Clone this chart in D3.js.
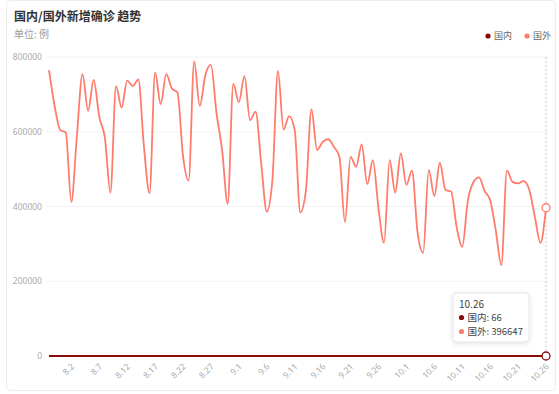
<!DOCTYPE html>
<html>
<head>
<meta charset="utf-8">
<script src="https://cdn.jsdelivr.net/npm/d3@7"></script>
<style>
  body { margin: 0; background: #fff; font-family: "Noto Sans CJK SC", "Noto Sans", sans-serif; }
</style>
</head>
<body>
<div id="chart"></div>
<script>
// categories: one per day, 7.29 to 10.26
var dates = [
    "7.29", "7.30", "7.31",
    "8.1", "8.2", "8.3", "8.4", "8.5", "8.6", "8.7", "8.8", "8.9", "8.10",
    "8.11", "8.12", "8.13", "8.14", "8.15", "8.16", "8.17", "8.18", "8.19", "8.20",
    "8.21", "8.22", "8.23", "8.24", "8.25", "8.26", "8.27", "8.28", "8.29", "8.30", "8.31",
    "9.1", "9.2", "9.3", "9.4", "9.5", "9.6", "9.7", "9.8", "9.9", "9.10",
    "9.11", "9.12", "9.13", "9.14", "9.15", "9.16", "9.17", "9.18", "9.19", "9.20",
    "9.21", "9.22", "9.23", "9.24", "9.25", "9.26", "9.27", "9.28", "9.29", "9.30",
    "10.1", "10.2", "10.3", "10.4", "10.5", "10.6", "10.7", "10.8", "10.9", "10.10",
    "10.11", "10.12", "10.13", "10.14", "10.15", "10.16", "10.17", "10.18", "10.19", "10.20",
    "10.21", "10.22", "10.23", "10.24", "10.25", "10.26"
];

// 国内 new cases (tiny next to 国外, sits on the zero line)
var domestic = [
    85, 80, 92, 98, 96, 71, 81, 124, 89, 85,
    108, 94, 62, 61, 53, 42, 51, 23, 20, 42,
    39, 29, 28, 21, 35, 28, 20, 21, 21, 20,
    29, 24, 30, 28, 23, 26, 29, 32, 28, 33,
    43, 29, 20, 21, 23, 30, 76, 37, 38, 32,
    43, 36, 28, 40, 38, 32, 29, 37, 25, 33,
    45, 25, 24, 32, 31, 30, 25, 31, 43, 34,
    36, 28, 30, 27, 28, 23, 27, 41, 38, 28,
    29, 42, 51, 35, 39, 30, 33, 43, 35, 66
];

// 国外 new cases
var overseas = [
    765000, 670000, 605000, 598000, 412000, 590000, 754000, 656000, 739000, 640000,
    585000, 437000, 722000, 665000, 737000, 722000, 740000, 560000, 436000, 758000,
    674000, 754000, 716000, 705000, 535000, 469000, 788000, 669000, 752000, 779000,
    650000, 551000, 407000, 728000, 679000, 749000, 631000, 654000, 515000, 386000,
    470000, 763000, 606000, 642000, 605000, 384000, 442000, 660000, 551000, 573000,
    580000, 560000, 533000, 358000, 533000, 506000, 566000, 460000, 524000, 395000,
    303000, 524000, 437000, 542000, 458000, 496000, 330000, 276000, 498000, 428000,
    517000, 444000, 440000, 345000, 292000, 415000, 465000, 478000, 442000, 417000,
    337000, 243000, 496000, 466000, 462000, 468000, 445000, 373000, 303000, 396647
];

var xTicks = ["8.2", "8.7", "8.12", "8.17", "8.22", "8.27", "9.1", "9.6", "9.11",
    "9.16", "9.21", "9.26", "10.1", "10.6", "10.11", "10.16", "10.21", "10.26"];
var yTicks = [0, 200000, 400000, 600000, 800000];

var W = 559, H = 394,
    plot = { left: 49, right: 546, top: 57, bottom: 356 },
    domesticColor = "#8b0a0a",
    overseasColor = "#ff7b6b",
    hoverIndex = dates.length - 1; // tooltip shows the last day

var svg = d3.select("#chart").append("svg")
    .attr("width", W)
    .attr("height", H);

var defs = svg.append("defs");
var shadow = defs.append("filter").attr("id", "shadow")
    .attr("x", "-20%").attr("y", "-20%").attr("width", "140%").attr("height", "160%");
shadow.append("feDropShadow")
    .attr("dx", 0).attr("dy", 1).attr("stdDeviation", 2.5)
    .attr("flood-color", "#000").attr("flood-opacity", 0.12);

// card
svg.append("rect")
    .attr("x", 6.5).attr("y", 0.5)
    .attr("width", 549).attr("height", 390)
    .attr("rx", 4)
    .attr("fill", "#fff")
    .attr("stroke", "#ededed");

svg.append("text")
    .attr("x", 14).attr("y", 21)
    .attr("font-size", 12).attr("font-weight", "bold")
    .attr("fill", "#333")
    .text("国内/国外新增确诊 趋势");

svg.append("text")
    .attr("x", 14).attr("y", 38)
    .attr("font-size", 10)
    .attr("fill", "#999")
    .text("单位: 例");

// legend
var legendKey = [
    { name: "国内", color: domesticColor, x: 488 },
    { name: "国外", color: overseasColor, x: 527 }
];
var legend = svg.selectAll(".legend")
    .data(legendKey)
    .enter().append("g")
    .attr("class", "legend")
    .attr("transform", function (d) { return "translate(" + d.x + ",36)"; });
legend.append("circle").attr("r", 2.6).attr("fill", function (d) { return d.color; });
legend.append("text")
    .attr("x", 6).attr("dy", "0.35em")
    .attr("font-size", 9).attr("fill", "#666")
    .text(function (d) { return d.name; });

var xScale = d3.scalePoint()
    .domain(dates)
    .range([plot.left, plot.right]);

var yScale = d3.scaleLinear()
    .domain([0, 800000])
    .range([plot.bottom, plot.top]);

// grid lines
svg.append("g")
    .selectAll("line")
    .data(yTicks.filter(function (d) { return d > 0; }))
    .enter().append("line")
    .attr("x1", 46).attr("x2", 549)
    .attr("y1", function (d) { return yScale(d); })
    .attr("y2", function (d) { return yScale(d); })
    .attr("stroke", "#f2f2f2");

// y axis labels
var yAxis = svg.append("g")
    .attr("transform", "translate(42,0)")
    .call(d3.axisLeft(yScale).tickValues(yTicks).tickSize(0).tickPadding(0)
        .tickFormat(d3.format("d")));
yAxis.select(".domain").remove();
yAxis.selectAll("text")
    .attr("font-family", "'Noto Sans', sans-serif")
    .attr("font-size", 8.5)
    .attr("fill", "#aaa");

// x axis labels, rotated
var xAxis = svg.append("g")
    .attr("transform", "translate(0," + plot.bottom + ")")
    .call(d3.axisBottom(xScale).tickValues(xTicks).tickSize(0));
xAxis.select(".domain").remove();
xAxis.selectAll("text")
    .attr("font-family", "'Noto Sans', sans-serif")
    .attr("font-size", 8.5)
    .attr("fill", "#aaa")
    .attr("text-anchor", "end")
    .attr("y", 0).attr("dy", 0)
    .attr("transform", "translate(3,11) rotate(-45)");

// crosshair
svg.append("line")
    .attr("x1", xScale(dates[hoverIndex])).attr("x2", xScale(dates[hoverIndex]))
    .attr("y1", plot.top).attr("y2", plot.bottom)
    .attr("stroke", "#c8c8c8")
    .attr("stroke-dasharray", "2,2");

var lineOf = function (values) {
    return d3.line()
        .x(function (d, i) { return xScale(dates[i]); })
        .y(function (d) { return yScale(d); })
        .curve(d3.curveMonotoneX)(values);
};

svg.append("path")
    .attr("d", lineOf(overseas))
    .attr("fill", "none")
    .attr("stroke", overseasColor)
    .attr("stroke-width", 1.8);

svg.append("path")
    .attr("d", lineOf(domestic))
    .attr("fill", "none")
    .attr("stroke", domesticColor)
    .attr("stroke-width", 2);

// hover markers
[{ v: overseas[hoverIndex], c: overseasColor }, { v: domestic[hoverIndex], c: domesticColor }]
    .forEach(function (m) {
        svg.append("circle")
            .attr("cx", xScale(dates[hoverIndex]))
            .attr("cy", yScale(m.v))
            .attr("r", 4)
            .attr("fill", "#fff")
            .attr("stroke", m.c)
            .attr("stroke-width", 1.3);
    });

// tooltip
var tip = svg.append("g").attr("transform", "translate(453,293)");
tip.append("rect")
    .attr("width", 76).attr("height", 49)
    .attr("rx", 4)
    .attr("fill", "#fff")
    .attr("stroke", "#e6e6e6")
    .attr("filter", "url(#shadow)");
tip.append("text")
    .attr("x", 6).attr("y", 14.5)
    .attr("font-size", 10).attr("fill", "#444")
    .text(dates[hoverIndex]);
var rows = [
    { name: "国内", value: domestic[hoverIndex], color: domesticColor },
    { name: "国外", value: overseas[hoverIndex], color: overseasColor }
];
rows.forEach(function (r, i) {
    var y = 24.5 + i * 14;
    tip.append("circle").attr("cx", 8.5).attr("cy", y).attr("r", 2.6).attr("fill", r.color);
    tip.append("text")
        .attr("x", 14.5).attr("y", y).attr("dy", "0.35em")
        .attr("font-size", 9.5).attr("fill", "#444")
        .text(r.name + ": " + r.value);
});
</script>
</body>
</html>
